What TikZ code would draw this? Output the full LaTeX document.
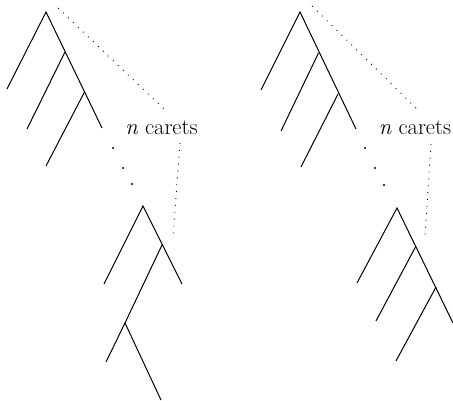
\documentclass[tikz,border=0pt]{standalone}
\begin{document}
\begin{tikzpicture}[x=1pt,y=-1pt,
  edge/.style={line width=1pt},
  dotline/.style={line width=0.9pt, dash pattern=on 0.9pt off 6pt},
  bigdot/.style={fill, circle, inner sep=0pt, minimum size=2.2pt},
  lbl/.style={font=\fontsize{22.5}{27}\selectfont, anchor=base, inner sep=0pt}]
\useasboundingbox (0,0) rectangle (453,401);
% ---------- left picture ----------
\coordinate (a0) at (46,12);
\coordinate (a1) at (65,52);
\coordinate (a2) at (84.5,92);
\coordinate (a3) at (102,128);
\coordinate (al0) at (7,89);
\coordinate (al1) at (27,129);
\coordinate (al2) at (46,166);
\draw[edge] (al0) -- (a0) -- (a3);
\draw[edge] (a1) -- (al1);
\draw[edge] (a2) -- (al2);
\coordinate (d1) at (58,8);
\coordinate (d2) at (165,110);
\coordinate (d3) at (180,143);
\coordinate (d4) at (173,236);
\draw[dotline] (d1) -- (d2);
\draw[dotline] (d3) -- (d4);
\node[lbl] (t1) at (161.5,135) {\textit{n} carets};
\node[bigdot] (p1) at (113,148) {};
\node[bigdot] (p2) at (123,168) {};
\node[bigdot] (p3) at (132,184) {};
\coordinate (b0) at (143,206);
\coordinate (bl0) at (104,284);
\coordinate (b1) at (162,245);
\coordinate (br1) at (182,284);
\coordinate (b2) at (125,323);
\coordinate (bl2) at (106,362);
\coordinate (br2) at (161,400);
\draw[edge] (bl0) -- (b0) -- (br1);
\draw[edge] (b1) -- (b2);
\draw[edge] (bl2) -- (b2) -- (br2);
% ---------- right picture ----------
\coordinate (c0) at (300,12);
\coordinate (c1) at (318.5,53);
\coordinate (c2) at (338,94);
\coordinate (c3) at (356,129);
\coordinate (cl0) at (261,90);
\coordinate (cl1) at (281,131);
\coordinate (cl2) at (301,167);
\draw[edge] (cl0) -- (c0) -- (c3);
\draw[edge] (c1) -- (cl1);
\draw[edge] (c2) -- (cl2);
\coordinate (f1) at (312,6);
\coordinate (f2) at (418,110);
\coordinate (f3) at (431,144);
\coordinate (f4) at (425,237);
\draw[dotline] (f1) -- (f2);
\draw[dotline] (f3) -- (f4);
\node[lbl] (t2) at (415,135) {\textit{n} carets};
\node[bigdot] (q1) at (365,148) {};
\node[bigdot] (q2) at (375,168) {};
\node[bigdot] (q3) at (384,185) {};
\coordinate (e0) at (397,208);
\coordinate (e1) at (416,246);
\coordinate (e2) at (436,287);
\coordinate (e3) at (453,323);
\coordinate (el0) at (357,283);
\coordinate (el1) at (376,321);
\coordinate (el2) at (396,361);
\draw[edge] (el0) -- (e0) -- (e3);
\draw[edge] (e1) -- (el1);
\draw[edge] (e2) -- (el2);
\end{tikzpicture}
\end{document}
